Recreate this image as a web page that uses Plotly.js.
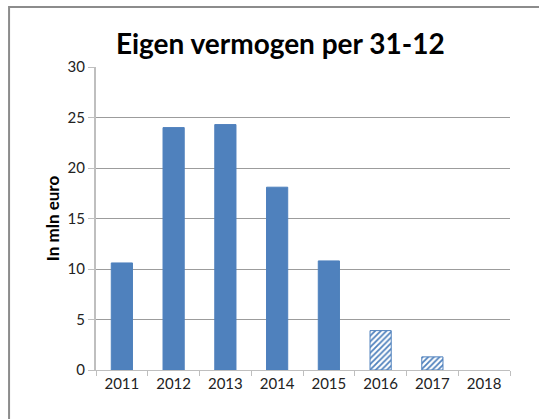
<!DOCTYPE html>
<html>
<head>
<meta charset="utf-8">
<script src="https://cdn.plot.ly/plotly-3.0.1.min.js"></script>
<style>
  html, body { margin: 0; padding: 0; background: #fff; }
  #chart { width: 539px; height: 419px; }
</style>
</head>
<body>
<div id="chart"></div>
<script>
// Eigen vermogen per 31-12 (mln euro)
const years = ['2011', '2012', '2013', '2014', '2015', '2016', '2017', '2018'];
const equity = [10.6, 24.0, 24.3, 18.1, 10.8, 3.9, 1.3, 0];
const forecast = [false, false, false, false, false, true, true, true];

const blue = '#4f81bd';

const trace = {
    type: 'bar',
    x: years,
    y: equity,
    marker: {
        color: blue,
        line: { color: blue, width: equity.map(v => v > 0 ? 1 : 0) },
        pattern: {
            shape: forecast.map(f => f ? '/' : ''),
            fillmode: 'replace',
            fgcolor: blue,
            bgcolor: '#ffffff',
            size: 4,
            solidity: 0.45
        }
    },
    hoverinfo: 'x+y'
};

const layout = {
    width: 539,
    height: 419,
    margin: { l: 96, r: 29, t: 67, b: 49 },
    paper_bgcolor: 'white',
    plot_bgcolor: 'white',
    font: { family: 'Lato, "Open Sans", sans-serif', size: 15, color: '#222' },
    showlegend: false,
    bargap: 0.59,
    title: {
        text: '<b>Eigen vermogen per 31-12</b>',
        font: { size: 28, color: '#000' },
        x: 0.52,
        xanchor: 'center',
        y: 0.895,
        yanchor: 'middle'
    },
    xaxis: {
        type: 'category',
        showline: true,
        linecolor: '#bfbfbf',
        linewidth: 1,
        ticks: 'outside',
        tickson: 'boundaries',
        ticklen: 5,
        tickcolor: '#bfbfbf',
        showgrid: false,
        tickfont: { size: 15, color: '#222' }
    },
    yaxis: {
        range: [0, 30],
        dtick: 5,
        showline: true,
        linecolor: '#bfbfbf',
        linewidth: 2,
        ticks: 'outside',
        ticklen: 6,
        tickcolor: '#bfbfbf',
        gridcolor: '#9c9c9c',
        gridwidth: 1,
        zeroline: false,
        tickfont: { size: 15, color: '#222' },
        title: {
            text: '<b>In mln euro</b>',
            font: { size: 17, color: '#000' },
            standoff: 4
        }
    },
    shapes: [{
        type: 'rect',
        xref: 'paper', yref: 'paper',
        x0: -0.21, x1: 1.3,
        y0: -0.4, y1: 1.198,
        line: { color: '#8c8c8c', width: 2 },
        fillcolor: 'rgba(0,0,0,0)'
    }]
};

Plotly.newPlot('chart', [trace], layout, { staticPlot: true, displayModeBar: false });
</script>
</body>
</html>
